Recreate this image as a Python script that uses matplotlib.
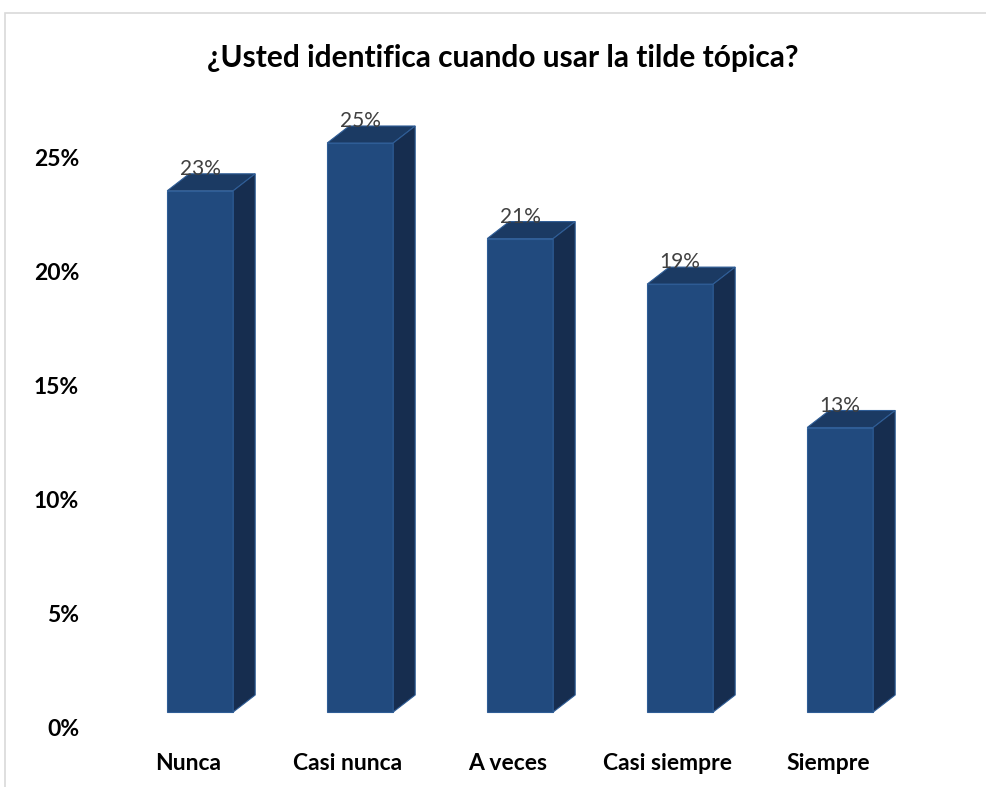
import numpy as np
import matplotlib
matplotlib.use("Agg")
import matplotlib.pyplot as plt
from matplotlib.patches import Polygon, Rectangle

categories = ["Nunca", "Casi nunca", "A veces", "Casi siempre", "Siempre"]
values = [22.9, 25.0, 20.8, 18.8, 12.5]          # percent
value_labels = ["23%", "25%", "21%", "19%", "13%"]
yticks = [0, 5, 10, 15, 20, 25]
title = "¿Usted identifica cuando usar la tilde tópica?"

front = "#214a7e"
top = "#1b3a63"
side = "#162d4f"
edge = "#2f5d96"

plt.rcParams["font.family"] = ["Lato", "DejaVu Sans"]

fig = plt.figure(figsize=(9.87, 7.87), dpi=100)
W, H = 987, 787

# chart area border (cropped at right/bottom)
fig.patches.append(Rectangle((5 / W, -0.1), 1.2, 1 - 13 / H + 0.1, transform=fig.transFigure,
                             fill=False, edgecolor="#d9d9d9", linewidth=1.2, zorder=0))

# axes from px 100..940 horizontally, 100..727 vertically
ax = fig.add_axes([100 / W, (H - 727) / H, 840 / W, 627 / H])
px_x = 160.0          # pixels per category
px_y = 22.76          # pixels per percent
ax.set_xlim((100 - 188) / px_x, (940 - 188) / px_x)
ax.set_ylim(0, 627 / px_y)

floor = 15 / px_y      # front face floor sits a bit above axis zero
bw = 66 / px_x
x0 = -0.13
ddx = 22 / px_x
ddy = 17 / px_y

for i, v in enumerate(values):
    l = i + x0
    r = l + bw
    b = floor
    t = floor + v
    ax.add_patch(Rectangle((l, b), bw, v, facecolor=front, edgecolor=edge, linewidth=0.8, zorder=3))
    ax.add_patch(Polygon([(l, t), (r, t), (r + ddx, t + ddy), (l + ddx, t + ddy)], closed=True,
                         facecolor=top, edgecolor=edge, linewidth=0.8, zorder=3))
    ax.add_patch(Polygon([(r, b), (r + ddx, b + ddy), (r + ddx, t + ddy), (r, t)], closed=True,
                         facecolor=side, edgecolor=edge, linewidth=0.8, zorder=3))
    ax.text(l + bw / 2, t + 22 / px_y, value_labels[i], ha="center", va="center",
            fontsize=15, color="#404040", zorder=4)

ax.set_xticks(range(len(categories)))
ax.set_xticklabels(categories, fontsize=16.5, fontweight="bold")
ax.set_yticks(yticks)
ax.set_yticklabels([f"{t}%" for t in yticks], fontsize=16.5, fontweight="bold")
ax.tick_params(axis="x", length=0, pad=19)
ax.tick_params(axis="y", length=0, pad=15)
for s in ax.spines.values():
    s.set_visible(False)

fig.text(503 / W, 1 - 58 / H, title, ha="center", va="center", fontsize=21.5, fontweight="bold")

fig.savefig("out.png", dpi=100)
